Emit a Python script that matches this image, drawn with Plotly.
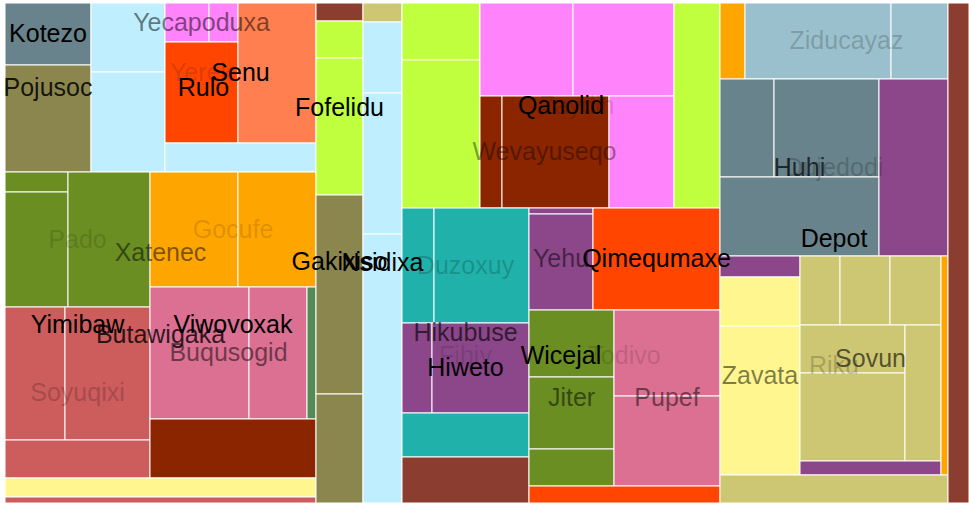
import plotly.graph_objects as go

# ---------------- palette (X11 colour names) ----------------
SL = "#68838B"   # lightblue4
K4 = "#8B864E"   # khaki4
LB = "#BFEFFF"   # lightblue1
OR1 = "#FF83FA"  # orchid1
ORR = "#FF4500"  # orangered
CO = "#FF7F50"   # coral
OD = "#6B8E23"   # olivedrab
IR = "#CD5C5C"   # indianred
OG = "#FFA500"   # orange
PV = "#DB7093"   # palevioletred
PG = "#548B54"   # palegreen4
OR4 = "#8B2500"  # orangered4
K1 = "#FFF68F"   # khaki1
BR = "#8B3E2F"   # coral4
GY = "#C0FF3E"   # olivedrab1
K3 = "#CDC673"   # khaki3
TL = "#20B2AA"   # lightseagreen
PU = "#8B4789"   # orchid4
LB3 = "#9AC0CD"  # lightblue3

# ---------------- hierarchy: group nodes ----------------
group_ids = [
    "root",
    "Xatenec", "_A1", "Pojusoc", "Kotezo", "Rulo", "_LBL", "_LBR", "Senu", "Yerek", "Yecapoduxa",
    "Butawigaka", "_BY", "Yimibaw", "Pado", "_PadoL", "Soyuqixi", "_SoyTop",
    "Viwovoxak", "Gocufe", "_VB", "_BuqRow", "Buqusogid",
    "_ColB", "_BrB", "Gakixiso", "Fofelidu",
    "_ColC", "_K3C", "Nsidixa",
    "_ColD", "Qanolid", "_QL", "Zaydih", "_PT", "_PB", "Wevayuseqo",
    "Wicejal", "Fihiy", "Hikubuse", "Duzoxuy", "Hiweto",
    "Todivo", "_TT", "Yehu", "Qimequmaxe", "_TM", "Jiter", "Pupef",
    "_ColE", "Depot", "_ZR", "_OgZ", "Ziducayaz", "Dujedodi", "Huhi", "_HT",
    "Riku", "_RL", "_PuR", "Zavata", "_RR", "_RRL", "Sovun", "_ST", "_SB", "_SBL",
]
group_parents = [
    "",
    "root", "Xatenec", "_A1", "Pojusoc", "_A1", "Rulo", "Rulo", "_LBR", "Senu", "Yerek",
    "Xatenec", "Butawigaka", "_BY", "Yimibaw", "Pado", "Yimibaw", "Soyuqixi",
    "_BY", "Viwovoxak", "Viwovoxak", "_VB", "_BuqRow",
    "root", "_ColB", "_ColB", "Gakixiso",
    "root", "_ColC", "_ColC",
    "root", "_ColD", "Qanolid", "Qanolid", "Zaydih", "Zaydih", "_PB",
    "_ColD", "Wicejal", "Fihiy", "Hikubuse", "Hikubuse",
    "Wicejal", "Todivo", "_TT", "_TT", "Todivo", "_TM", "_TM",
    "root", "_ColE", "Depot", "_ZR", "_ZR", "Depot", "Dujedodi", "Huhi",
    "Depot", "Riku", "_RL", "_RL", "Riku", "_RR", "_RRL", "Sovun", "Sovun", "_SB",
]
group_split = [
    "h",
    "v", "h", "v", "v", "h", "v", "v", "h", "v", "h",
    "v", "h", "v", "h", "v", "v", "h",
    "v", "h", "v", "h", "h",
    "v", "v", "v", "v",
    "v", "v", "v",
    "v", "h", "v", "v", "h", "h", "h",
    "h", "v", "v", "h", "h",
    "v", "h", "v", "v", "h", "v", "v",
    "v", "v", "h", "v", "h", "h", "v", "h",
    "h", "v", "v", "v", "h", "v", "v", "h", "h", "v",
]
label_alpha = [
    0,
    0.5, 0, 0.85, 1, 1, 0, 0, 1, 0.15, 0.5,
    0.8, 0, 1, 0.15, 0, 0.2, 0,
    1, 0.15, 0, 0, 0.5,
    0, 0, 1, 1,
    0, 0, 1,
    0, 1, 0, 0.15, 0, 0, 0.4,
    1, 0.12, 0.65, 0.2, 1,
    0.15, 0, 0.5, 1, 0, 0.5, 0.5,
    0, 1, 0, 0, 0.2, 0.2, 0.7, 0,
    0.2, 0, 0, 0.5, 0, 0, 0.6, 0, 0, 0,
]

# ---------------- hierarchy: leaves ----------------
leaf_parents = [
    "Kotezo", "Pojusoc", "_LBL", "_LBL", "Yecapoduxa", "Yecapoduxa", "Yerek", "Senu", "_LBR",
    "_PadoL", "_PadoL", "Pado", "_SoyTop", "_SoyTop", "Soyuqixi",
    "Gocufe", "Gocufe", "Buqusogid", "Buqusogid", "_BuqRow", "_VB", "Butawigaka", "Xatenec",
    "_BrB", "Fofelidu", "Fofelidu", "Gakixiso", "Gakixiso",
    "_K3C", "Nsidixa", "Nsidixa", "Nsidixa",
    "_QL", "_QL", "_PT", "_PT", "Wevayuseqo", "Wevayuseqo", "_PB", "Qanolid",
    "Duzoxuy", "Duzoxuy", "Hiweto", "Hiweto", "Hikubuse", "Fihiy",
    "Yehu", "Yehu", "Qimequmaxe", "Jiter", "Jiter", "Jiter", "Pupef", "Pupef", "Todivo",
    "_OgZ", "Ziducayaz", "Ziducayaz", "_HT", "_HT", "Huhi", "Dujedodi",
    "_PuR", "Zavata", "Zavata", "_ST", "_ST", "_ST", "_SBL", "_SBL", "_SB", "_RRL", "_RR",
    "_ColE", "root",
]
leaf_values = [
    5332, 9202, 5106, 7400, 1716, 1131, 7373, 10920, 4379,
    1260, 7245, 11070, 7980, 11305, 5510,
    10120, 8970, 13068, 7656, 1188, 9794, 5909, 1866,
    846, 1739, 6439, 9353, 5123,
    741, 2769, 5499, 10491,
    4446, 11544, 8649, 9393, 2464, 11984, 7280, 9430,
    3680, 10925, 2700, 8730, 5588, 5842,
    384, 6144, 12954, 5695, 6120, 3145, 9116, 9540, 3247,
    1900, 11096, 4332, 5292, 10290, 12561, 12213,
    1680, 3920, 11920, 2760, 3450, 3519, 5040, 9240, 4896, 1974, 1533,
    6384, 10500,
]
leaf_colors = [
    SL, K4, LB, LB, OR1, OR1, ORR, CO, LB,
    OD, OD, OD, IR, IR, IR,
    OG, OG, PV, PV, PG, OR4, K1, IR,
    BR, GY, GY, K4, K4,
    K3, LB, LB, LB,
    GY, GY, OR1, OR1, OR4, OR4, OR1, GY,
    TL, TL, PU, PU, TL, BR,
    PU, PU, ORR, OD, OD, OD, PV, PV, ORR,
    OG, LB3, LB3, SL, SL, SL, PU,
    PU, K1, K1, K3, K3, K3, K3, K3, K3, PU, OG,
    K3, BR,
]

assert len(group_ids) == len(group_parents) == len(group_split) == len(label_alpha)
assert len(leaf_parents) == len(leaf_values) == len(leaf_colors)

# ---------------- slice / dice layout from the values ----------------
W, H = 969, 506
ROOT_BOX = (5, 3, 969, 503)
TEXT_DY = 2      # small baseline nudge of the centred labels
FONT_SIZE = 25

children = {g: [] for g in group_ids}
for g, p in zip(group_ids, group_parents):
    if p:
        children[p].append(("g", g))
for i, p in enumerate(leaf_parents):
    children[p].append(("l", i))

split_of = dict(zip(group_ids, group_split))
alpha_of = dict(zip(group_ids, label_alpha))

def total(node):
    kind, key = node
    if kind == "l":
        return leaf_values[key]
    return sum(total(c) for c in children[key])

group_box = {}
leaf_box = {}

def layout(node, x0, y0, x1, y1):
    kind, key = node
    if kind == "l":
        leaf_box[key] = (x0, y0, x1, y1)
        return
    group_box[key] = (x0, y0, x1, y1)
    kids = children[key]
    tot = sum(total(c) for c in kids)
    pos = x0 if split_of[key] == "h" else y0
    for c in kids:
        f = total(c) / tot
        if split_of[key] == "h":
            w = (x1 - x0) * f
            layout(c, pos, y0, pos + w, y1)
        else:
            w = (y1 - y0) * f
            layout(c, x0, pos, x1, pos + w)
        pos += w

layout(("g", "root"), *ROOT_BOX)

fig = go.Figure()

shapes = []
for i in range(len(leaf_values)):
    x0, y0, x1, y1 = leaf_box[i]
    shapes.append(dict(type="rect", xref="x", yref="y", x0=x0, y0=y0, x1=x1, y1=y1,
                       fillcolor=leaf_colors[i], line=dict(color="white", width=1),
                       layer="below"))

tx, ty, tt, tc = [], [], [], []
for g in group_ids:
    if g == "root" or g.startswith("_"):
        continue
    x0, y0, x1, y1 = group_box[g]
    tx.append((x0 + x1) / 2)
    ty.append((y0 + y1) / 2 + TEXT_DY)
    tt.append(g)
    tc.append("rgba(0,0,0,%.2f)" % alpha_of[g])

fig.add_trace(go.Scatter(
    x=tx, y=ty, text=tt, mode="text", textposition="middle center",
    textfont=dict(family="Liberation Sans, Arial, sans-serif", size=FONT_SIZE, color=tc),
    hoverinfo="skip", showlegend=False, cliponaxis=False,
))

fig.update_layout(
    width=W, height=H, autosize=False,
    margin=dict(l=0, r=0, t=0, b=0, pad=0),
    paper_bgcolor="white", plot_bgcolor="white",
    shapes=shapes,
    xaxis=dict(range=[0, W], visible=False, fixedrange=True),
    yaxis=dict(range=[H, 0], visible=False, fixedrange=True),
)

fig.write_html("out.html")
